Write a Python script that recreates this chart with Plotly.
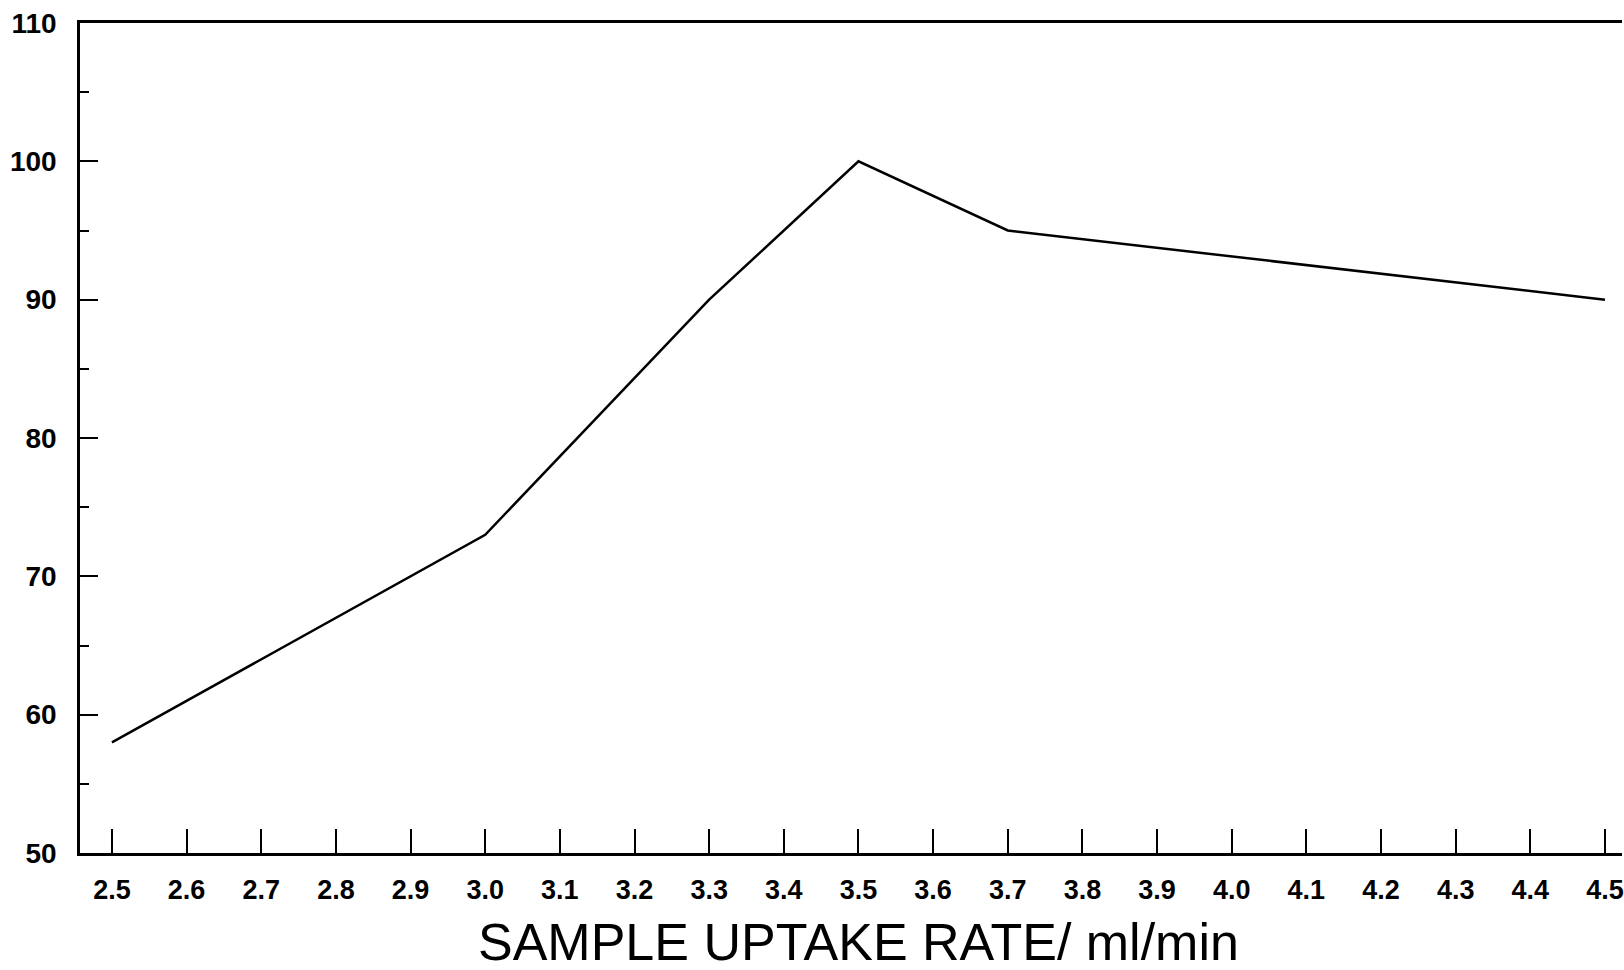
import plotly.graph_objects as go

# Data
uptake_rate = [2.5, 3.0, 3.3, 3.5, 3.7, 4.5]
signal = [58, 73, 90, 100, 95, 90]

x_ticks = [2.5, 2.6, 2.7, 2.8, 2.9, 3.0, 3.1, 3.2, 3.3, 3.4, 3.5,
           3.6, 3.7, 3.8, 3.9, 4.0, 4.1, 4.2, 4.3, 4.4, 4.5]
x_tick_labels = ["%.1f" % v for v in x_ticks]
y_ticks = [50, 60, 70, 80, 90, 100, 110]
x_title = "SAMPLE UPTAKE RATE/ ml/min"

FONT = "Liberation Sans, Arial, Helvetica, sans-serif"

fig = go.Figure()
fig.add_trace(go.Scatter(
    x=uptake_rate, y=signal, mode="lines",
    line=dict(color="black", width=2.5),
    showlegend=False, hoverinfo="skip",
))

fig.update_layout(
    width=1624, height=970,
    margin=dict(l=80, r=0, t=23, b=117),
    paper_bgcolor="white", plot_bgcolor="white",
    font=dict(family=FONT, color="black"),
    xaxis=dict(
        range=[2.4572, 4.5228],
        tickmode="array", tickvals=x_ticks, ticktext=x_tick_labels,
        ticks="inside", ticklen=24, tickwidth=1.5, tickcolor="black",
        tickfont=dict(family=FONT, size=27, weight="bold", color="black"),
        ticklabelstandoff=11,
        ticklabeloverflow="allow",
        showline=True, linecolor="black", linewidth=2.5, mirror=True,
        showgrid=False, zeroline=False,
    ),
    yaxis=dict(
        range=[50, 110],
        tickmode="array", tickvals=y_ticks,
        ticks="inside", ticklen=18, tickwidth=1.5, tickcolor="black",
        tickfont=dict(family=FONT, size=28, weight="bold", color="black"),
        ticklabelstandoff=15,
        minor=dict(tickmode="array", tickvals=[55, 65, 75, 85, 95, 105],
                   ticks="inside", ticklen=9, tickwidth=1.5, tickcolor="black"),
        showline=True, linecolor="black", linewidth=2.5, mirror=False,
        showgrid=False, zeroline=False,
    ),
    annotations=[dict(
        text=x_title, xref="paper", yref="paper",
        x=0.505, y=-0.107, xanchor="center", yanchor="middle",
        showarrow=False,
        font=dict(family=FONT, size=52, color="black"),
    )],
)

fig.write_html("out.html")
